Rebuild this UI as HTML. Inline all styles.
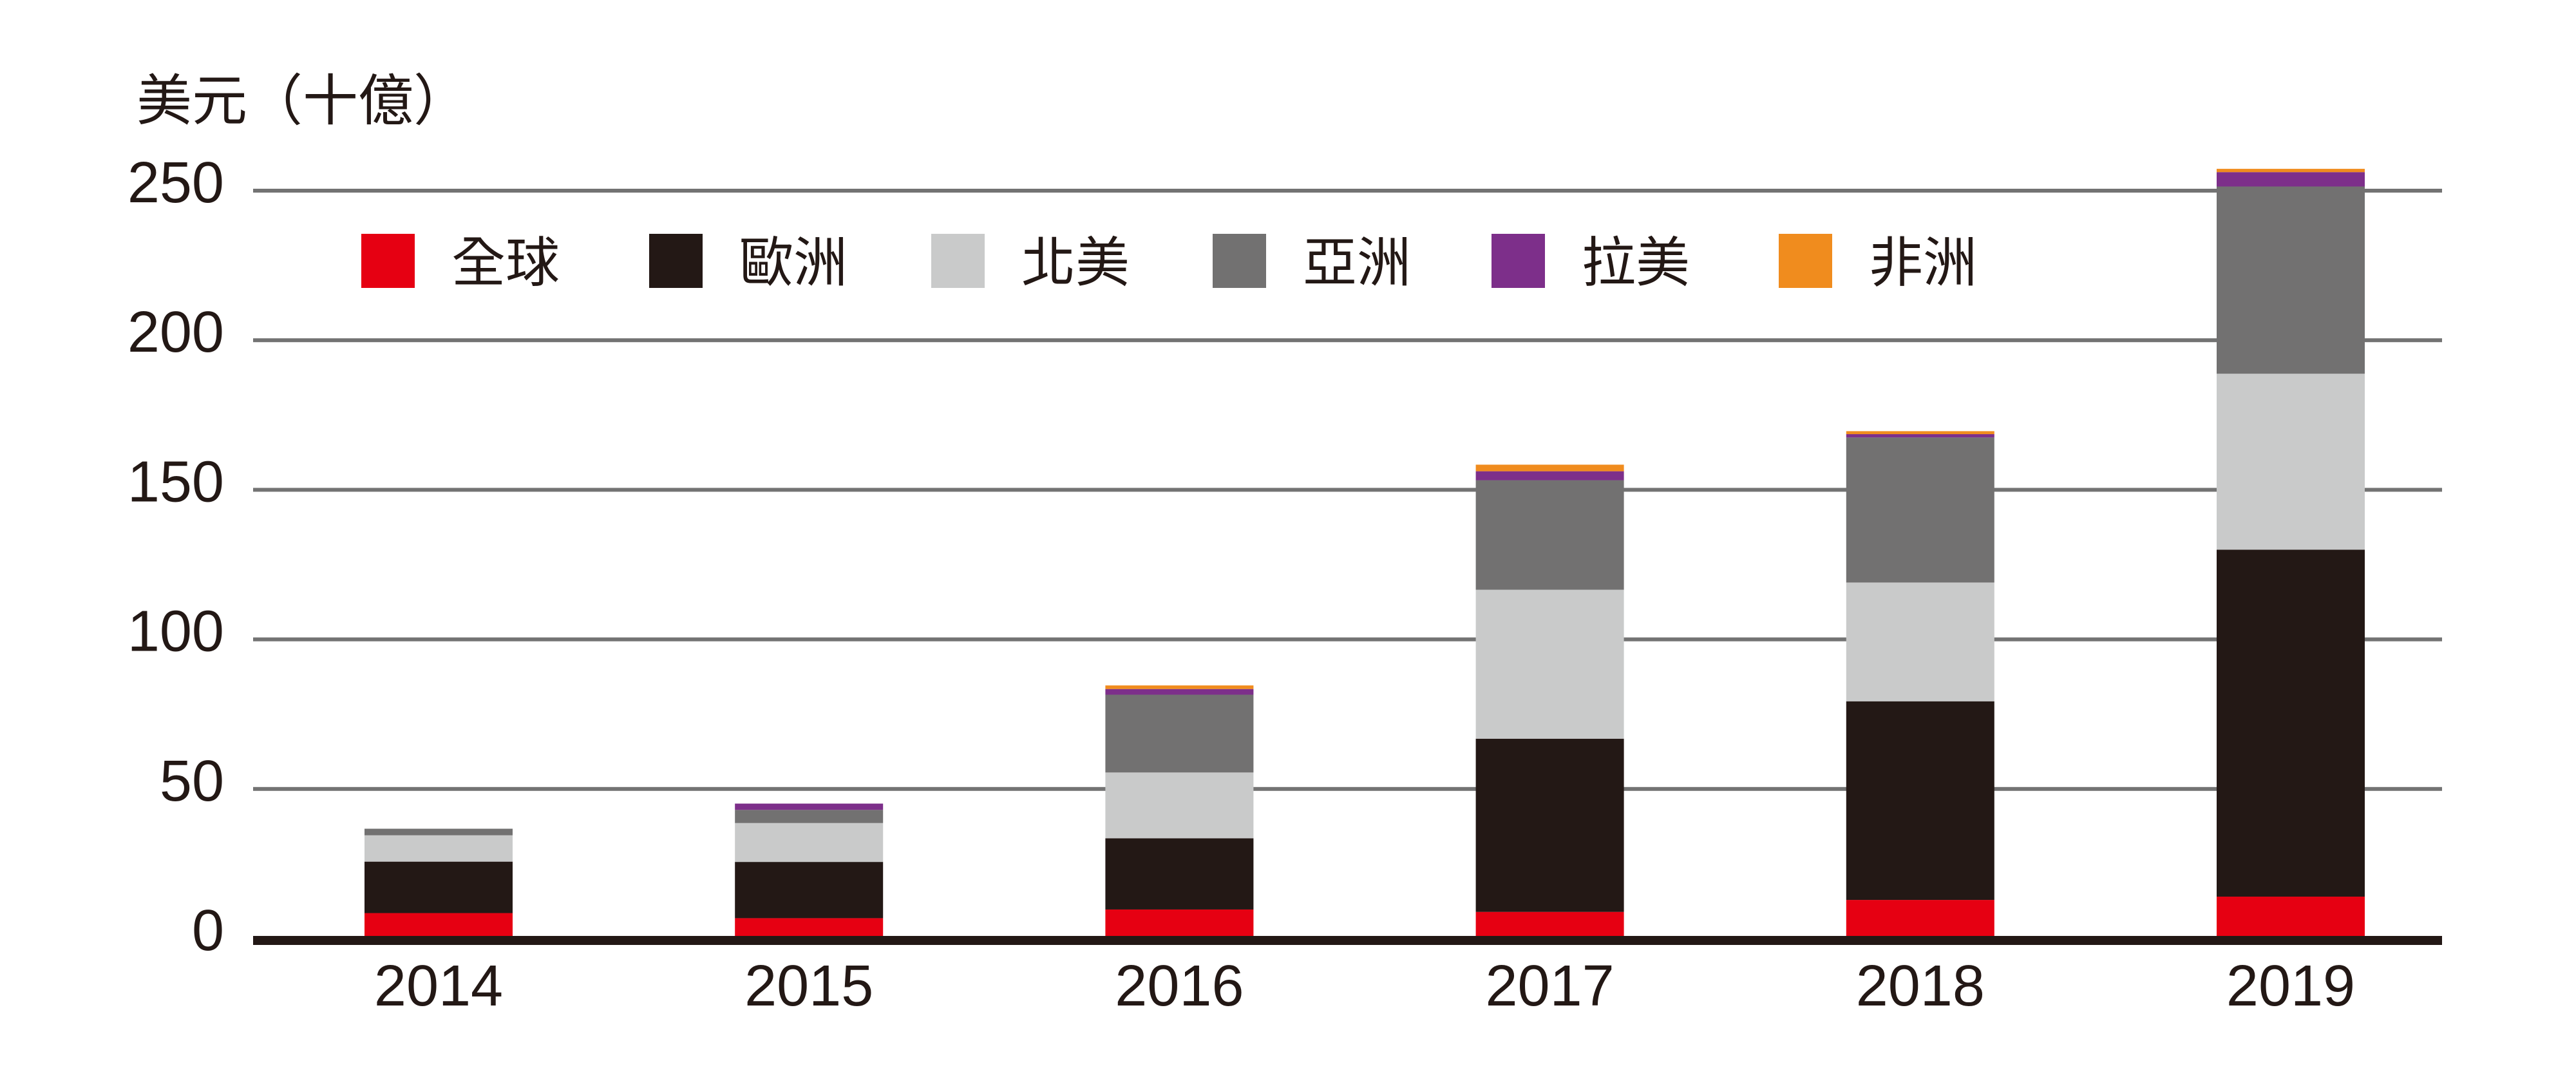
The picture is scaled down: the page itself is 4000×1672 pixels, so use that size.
<!DOCTYPE html>
<html><head><meta charset="utf-8"><style>
html,body{margin:0;padding:0;background:#fff;}
svg{display:block;}
text{font-family:"Liberation Sans","Noto Sans CJK TC",sans-serif;fill:#231815;}
</style></head><body>
<svg id="chart" width="4000" height="1672" viewBox="0 0 4000 1672" xmlns="http://www.w3.org/2000/svg">
<text x="212" y="186" font-size="86">美元（十億）</text>
<g id="grid"></g>
<g id="ylabels"></g>
<g id="bars"></g>
<rect x="393" y="1453" width="3399" height="14" fill="#231815"/>
<g id="xlabels"></g>
<g id="legend"></g>
</svg>
<script>
const categories = ["2014","2015","2016","2017","2018","2019"];
const seriesNames = ["全球","歐洲","北美","亞洲","拉美","非洲"];
const seriesColors = ["#e60012","#231815","#c9caca","#727171","#7d2f8a","#f08c1e"];
const global = [8.5, 6.8, 9.7, 8.9, 12.9, 14];
const europe = [17.2, 18.8, 23.8, 57.9, 66.4, 116];
const northAmerica = [8.8, 13.0, 22.0, 49.8, 39.7, 58.8];
const asia = [2.2, 4.4, 26.0, 36.6, 48.5, 62.6];
const latam = [0, 2.1, 1.9, 3.0, 1.1, 4.8];
const africa = [0, 0, 1.2, 2.2, 1.0, 1.1];
const yTicks = [0, 50, 100, 150, 200, 250];
const series = [global, europe, northAmerica, asia, latam, africa];

const NS = "http://www.w3.org/2000/svg";
const plotLeft = 393, plotRight = 3792;
function yScale(v){ return 1457 - v * (1457 - 296) / 250; }
function xCenter(i){ return 681 + i * 575.2; }
const barW = 230;

const grid = document.getElementById("grid");
const ylabels = document.getElementById("ylabels");
yTicks.forEach(function(t){
  if (t > 0) {
    const ln = document.createElementNS(NS, "rect");
    
    
    ln.setAttribute("x", plotLeft); ln.setAttribute("y", yScale(t) - 3);
    ln.setAttribute("width", plotRight - plotLeft); ln.setAttribute("height", 6);
    ln.setAttribute("fill", "#737373");
    grid.appendChild(ln);
  }
  const tx = document.createElementNS(NS, "text");
  
  
  tx.setAttribute("x", 348); tx.setAttribute("y", yScale(t) + 18);
  tx.setAttribute("text-anchor", "end"); tx.setAttribute("font-size", "90");
  tx.textContent = String(t);
  ylabels.appendChild(tx);
});

const bars = document.getElementById("bars");
categories.forEach(function(c, i){
  let base = 0;
  series.forEach(function(s, k){
    const v = s[i];
    if (v <= 0) return;
    const r = document.createElementNS(NS, "rect");
    
    
    const y0 = yScale(base), y1 = yScale(base + v);
    r.setAttribute("x", xCenter(i) - barW / 2);
    r.setAttribute("y", y1);
    r.setAttribute("width", barW);
    r.setAttribute("height", y0 - y1);
    r.setAttribute("fill", seriesColors[k]);
    bars.appendChild(r);
    base += v;
  });
});

const xlabels = document.getElementById("xlabels");
categories.forEach(function(c, i){
  const tx = document.createElementNS(NS, "text");
  
  
  tx.setAttribute("x", xCenter(i)); tx.setAttribute("y", 1561);
  tx.setAttribute("text-anchor", "middle"); tx.setAttribute("font-size", "90");
  tx.textContent = c;
  xlabels.appendChild(tx);
});

const legendX = [561, 1008, 1446, 1883, 2316, 2762];
const legend = document.getElementById("legend");
seriesNames.forEach(function(n, k){
  const g = document.createElementNS(NS, "g");
  
  
  const sq = document.createElementNS(NS, "rect");
  
  
  sq.setAttribute("x", legendX[k]); sq.setAttribute("y", 363);
  sq.setAttribute("width", 83); sq.setAttribute("height", 84);
  sq.setAttribute("fill", seriesColors[k]);
  g.appendChild(sq);
  const tx = document.createElementNS(NS, "text");
  
  
  tx.setAttribute("x", legendX[k] + 140); tx.setAttribute("y", 437);
  tx.setAttribute("font-size", "84");
  tx.textContent = n;
  g.appendChild(tx);
  legend.appendChild(g);
});
</script>
</body></html>
